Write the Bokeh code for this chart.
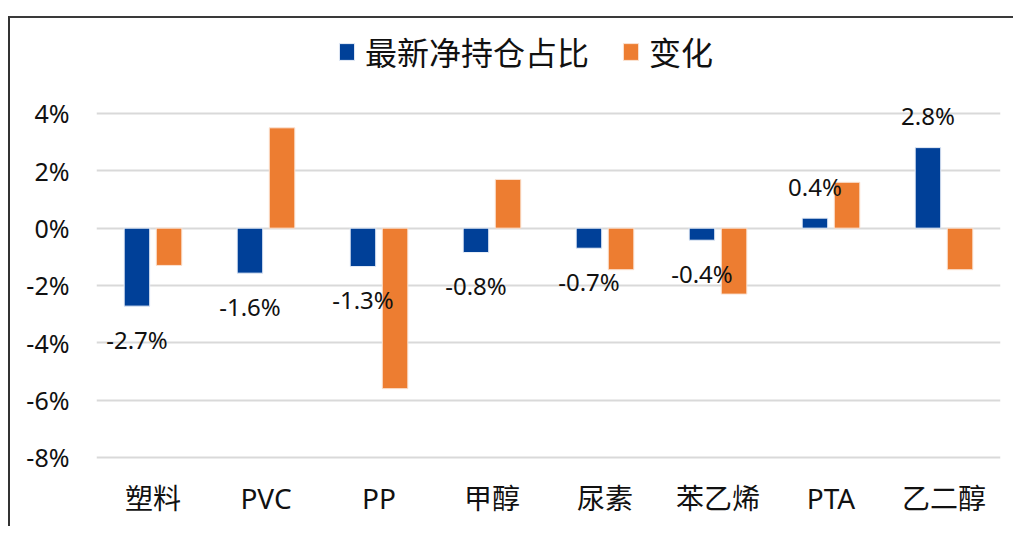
from bokeh.plotting import figure
from bokeh.models import (ColumnDataSource, FactorRange, Range1d, FixedTicker,
                          PrintfTickFormatter, Legend, LegendItem)
from bokeh.transform import dodge
from bokeh.core.properties import value
from bokeh.embed import file_html
from bokeh.resources import INLINE

categories = ["塑料", "PVC", "PP", "甲醇", "尿素", "苯乙烯", "PTA", "乙二醇"]
net_share = [-2.72, -1.57, -1.34, -0.85, -0.70, -0.42, 0.35, 2.81]
net_labels = ["-2.7%", "-1.6%", "-1.3%", "-0.8%", "-0.7%", "-0.4%", "0.4%", "2.8%"]
change = [-1.3, 3.5, -5.6, 1.7, -1.45, -2.3, 1.6, -1.45]
y_ticks = [-8, -6, -4, -2, 0, 2, 4]
series_names = ["最新净持仓占比", "变化"]

BLUE = "#004098"
ORANGE = "#ED7D31"
FONT_NAME = "Noto Sans, Noto Sans CJK SC"
FONT = value(FONT_NAME)

src = ColumnDataSource(dict(
    cat=categories, net=net_share, chg=change, lab=net_labels,
    off=[33 if v < 0 else -32 for v in net_share],
))

# canvas origin placed at page (10, 18); frame spans canvas y 10..448
p = figure(x_range=FactorRange(*categories, range_padding=0),
           y_range=Range1d(-8.314, 6.965),
           width=1005, height=510, output_backend="svg", toolbar_location=None,
           min_border_left=86, min_border_right=15, min_border_top=10,
           min_border_bottom=62)
p.margin = (16, 0, 0, 8)
p.styles = {"border-left": "2px solid #333333", "border-top": "2px solid #3a3a3a"}

r1 = p.vbar(x=dodge("cat", -0.142, range=p.x_range), top="net", bottom=0, width=0.226,
            source=src, fill_color=BLUE, line_color="#E8EEF8", line_width=1)
r2 = p.vbar(x=dodge("cat", 0.142, range=p.x_range), top="chg", bottom=0, width=0.226,
            source=src, fill_color=ORANGE, line_color="#FBE3D3", line_width=1)

p.text(x=dodge("cat", -0.142, range=p.x_range), y="net", text="lab", y_offset="off",
       source=src, text_align="center", text_baseline="middle",
       text_font=FONT, text_font_size="24px", text_color="#111111")

p.outline_line_color = None
p.background_fill_color = None
p.xgrid.grid_line_color = None
p.ygrid.grid_line_color = "#D9D9D9"
p.ygrid.grid_line_width = 2
p.yaxis.ticker = FixedTicker(ticks=y_ticks)
p.yaxis.formatter = PrintfTickFormatter(format="%d%%")
for ax in (p.xaxis, p.yaxis):
    ax.axis_line_color = None
    ax.major_tick_line_color = None
    ax.minor_tick_line_color = None
    ax.major_label_text_font = FONT_NAME
    ax.major_label_text_color = "#111111"
p.yaxis.major_label_text_font_size = "25px"
p.yaxis.major_label_standoff = 21
p.xaxis.major_label_text_font_size = "28px"
p.xaxis.major_label_standoff = 6

legend = Legend(items=[LegendItem(label=series_names[0], renderers=[r1]),
                       LegendItem(label=series_names[1], renderers=[r2])],
                orientation="horizontal", location=(241, 392),
                label_text_font=FONT_NAME, label_text_font_size="32px",
                label_text_color="#111111", glyph_width=19, glyph_height=21,
                label_standoff=9, spacing=32, padding=0, margin=0,
                border_line_color=None, background_fill_alpha=0)
p.add_layout(legend, "center")

open("out.html", "w").write(file_html(p, INLINE))
